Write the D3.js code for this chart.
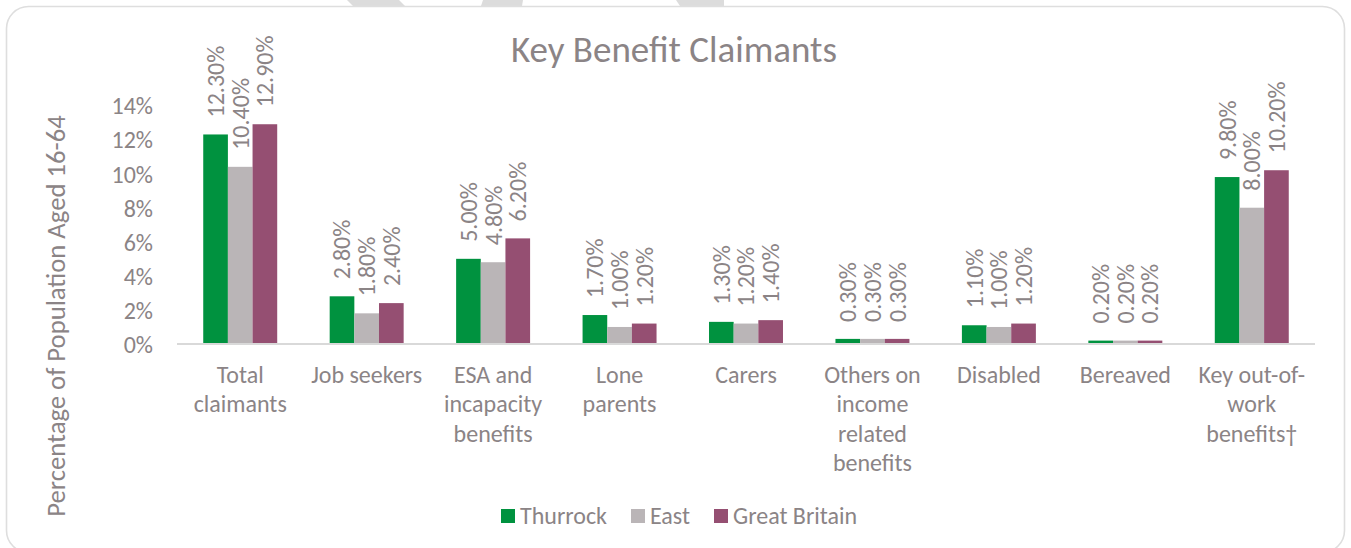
<!DOCTYPE html>
<html>
<head>
<meta charset="utf-8">
<script src="https://cdn.jsdelivr.net/npm/d3@7"></script>
<style>
  html, body { margin: 0; padding: 0; background: #ffffff; }
  svg { display: block; }
  text { font-family: Carlito, Calibri, Lato, "Open Sans", sans-serif; fill: #8b8486; }
</style>
</head>
<body>
<svg id="chart" width="1351" height="548"></svg>
<script>
// Key benefit claimants, share of population aged 16-64
const categories = [
  "Total claimants", "Job seekers", "ESA and incapacity benefits", "Lone parents",
  "Carers", "Others on income related benefits", "Disabled", "Bereaved",
  "Key out-of-work benefits\u2020"
];
const seriesNames = ["Thurrock", "East", "Great Britain"];
const thurrock     = [12.3, 2.8, 5.0, 1.7, 1.3, 0.3, 1.1, 0.2, 9.8];
const east         = [10.4, 1.8, 4.8, 1.0, 1.2, 0.3, 1.0, 0.2, 8.0];
const greatBritain = [12.9, 2.4, 6.2, 1.2, 1.4, 0.3, 1.2, 0.2, 10.2];
const yTicks = [0, 2, 4, 6, 8, 10, 12, 14];
const colors = ["#00923f", "#bab5b7", "#954f72"];

const seriesValues = [thurrock, east, greatBritain];
const fontSize = "24px";
const svg = d3.select("#chart");

// Decorative page graphics peeking above the chart frame
const deco = [
  [[347, 0], [399, 0], [405, 6], [353, 6]],
  [[483, 0], [523, 0], [522, 6], [481, 6]],
  [[676, 0], [724, 0], [724, 6], [680, 6]]
];
svg.selectAll("polygon.deco").data(deco).join("polygon")
  .attr("class", "deco")
  .attr("points", d => d.map(p => p.join(",")).join(" "))
  .attr("fill", "#dcdcdc");

// Chart frame
svg.append("rect")
  .attr("x", 6.5).attr("y", 6.5)
  .attr("width", 1338).attr("height", 546)
  .attr("rx", 22).attr("ry", 22)
  .attr("fill", "#ffffff")
  .attr("stroke", "#dedede")
  .attr("stroke-width", 1.6);

// Title
svg.append("text")
  .attr("x", 674).attr("y", 62)
  .attr("text-anchor", "middle")
  .style("font-size", "37px")
  .text("Key Benefit Claimants");

const plotLeft = 177, plotRight = 1315;
const x0 = d3.scaleBand()
  .domain(categories)
  .range([plotLeft, plotRight])
  .paddingInner(0.415)
  .paddingOuter(0.2075);
const x1 = d3.scaleBand()
  .domain(seriesNames)
  .range([0, x0.bandwidth()]);
const y = d3.scaleLinear().domain([0, 14]).range([344, 105.5]);

// Y axis tick labels (no axis line or gridlines)
const yAxis = d3.axisLeft(y)
  .tickValues(yTicks)
  .tickFormat(d => d + "%")
  .tickSize(0)
  .tickPadding(0);
const yg = svg.append("g")
  .attr("transform", "translate(153,0)")
  .call(yAxis);
yg.select(".domain").remove();
yg.selectAll("text")
  .attr("fill", null)
  .style("font-size", fontSize)
  .attr("dy", "0.35em");

// Y axis title
svg.append("text")
  .attr("transform", "translate(65,316) rotate(-90)")
  .attr("text-anchor", "middle")
  .style("font-size", "26.7px")
  .text("Percentage of Population Aged 16-64");

// Bars
const groups = svg.append("g").selectAll("g")
  .data(categories)
  .join("g")
  .attr("transform", d => `translate(${x0(d)},0)`);

const barData = (cat, i) => seriesNames.map((s, k) => ({ series: s, k, value: seriesValues[k][i] }));

groups.selectAll("rect")
  .data(barData)
  .join("rect")
  .attr("x", d => x1(d.series))
  .attr("width", x1.bandwidth())
  .attr("y", d => y(d.value))
  .attr("height", d => y(0) - y(d.value))
  .attr("fill", d => colors[d.k]);

// Value labels, rotated, above each bar
groups.selectAll("text.val")
  .data(barData)
  .join("text")
  .attr("class", "val")
  .attr("transform", d => `translate(${x1(d.series) + x1.bandwidth() / 2},${y(d.value) - 17}) rotate(-90)`)
  .attr("dy", "0.35em")
  .attr("text-anchor", "start")
  .style("font-size", fontSize)
  .text(d => d.value.toFixed(2) + "%");

// Category axis
const xAxis = d3.axisBottom(x0).tickSize(0).tickPadding(0);
const xg = svg.append("g")
  .attr("transform", "translate(0,344)")
  .call(xAxis);
xg.select(".domain")
  .attr("stroke", "#d9d9d9")
  .attr("stroke-width", 2)
  .attr("d", `M${plotLeft},0H${plotRight}`);
xg.selectAll("text").remove();

// Wrapped category labels
function wrapTokens(label) {
  // break on spaces, and after hyphens
  const words = label.split(" ");
  const tokens = [];
  words.forEach((w, wi) => {
    const parts = w.split(/(?<=-)/);
    parts.forEach((p, pi) => tokens.push({ text: p, space: wi > 0 && pi === 0 }));
  });
  return tokens;
}
const maxLabelWidth = 118;
const measurer = svg.append("text").style("font-size", fontSize).attr("opacity", 0);
function measure(s) { measurer.text(s); return measurer.node().getComputedTextLength(); }

categories.forEach(cat => {
  const tokens = wrapTokens(cat);
  const lines = [];
  let line = "";
  tokens.forEach(t => {
    const candidate = line === "" ? t.text : line + (t.space ? " " : "") + t.text;
    if (line !== "" && measure(candidate) > maxLabelWidth) {
      lines.push(line);
      line = t.text;
    } else {
      line = candidate;
    }
  });
  if (line) lines.push(line);
  const t = svg.append("text")
    .attr("text-anchor", "middle")
    .style("font-size", fontSize);
  lines.forEach((ln, li) => {
    t.append("tspan")
      .attr("x", x0(cat) + x0.bandwidth() / 2)
      .attr("y", 383 + li * 29.3)
      .text(ln);
  });
});
measurer.remove();

// Legend
const legendItems = seriesNames.map((s, k) => ({ s, k }));
const legendX = [501, 631, 714];
const legend = svg.append("g");
legendItems.forEach((d, i) => {
  legend.append("rect")
    .attr("x", legendX[i]).attr("y", 509)
    .attr("width", 14).attr("height", 14)
    .attr("fill", colors[d.k]);
  legend.append("text")
    .attr("x", legendX[i] + 19).attr("y", 524)
    .style("font-size", fontSize)
    .text(d.s);
});
</script>
</body>
</html>
